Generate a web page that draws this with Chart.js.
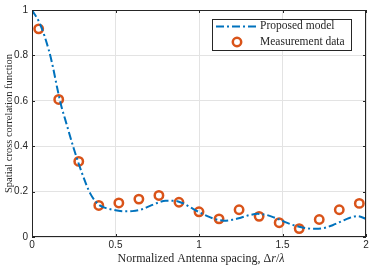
<!DOCTYPE html>
<html><head><meta charset="utf-8">
<script src="https://cdn.jsdelivr.net/npm/chart.js@4"></script>
<style>html,body{margin:0;padding:0;background:#fff}#w{width:374px;height:266px}</style>
</head><body><div id="w"><canvas id="c" width="374" height="266"></canvas></div>
<script>
const modelX = [0,0.05,0.10,0.125,0.15,0.175,0.20,0.25,0.30,0.35,0.40,0.45,0.50,0.55,0.60,0.65,0.70,0.75,0.80,0.85,0.90,0.95,1.00,1.05,1.10,1.15,1.20,1.25,1.30,1.35,1.40,1.45,1.50,1.55,1.60,1.65,1.70,1.75,1.80,1.85,1.90,1.95,2.00];
const modelY = [1.0,0.935,0.825,0.75,0.66,0.578,0.515,0.39,0.28,0.19,0.142,0.126,0.118,0.113,0.114,0.12,0.135,0.150,0.160,0.160,0.150,0.130,0.110,0.092,0.078,0.072,0.076,0.085,0.096,0.102,0.098,0.086,0.071,0.056,0.045,0.038,0.036,0.040,0.052,0.068,0.084,0.092,0.080];
const measX = [0.04,0.16,0.28,0.40,0.52,0.64,0.76,0.88,1.00,1.12,1.24,1.36,1.48,1.60,1.72,1.84,1.96];
const measY = [0.917,0.606,0.333,0.139,0.150,0.167,0.183,0.153,0.111,0.080,0.120,0.091,0.063,0.037,0.077,0.120,0.148];
const xTicks = [0,0.5,1,1.5,2];
const xTickLabels = ['0','0.5','1','1.5','2'];
const yTicks = [0,0.2,0.4,0.6,0.8,1];
const yTickLabels = ['0','0.2','0.4','0.6','0.8','1'];
const seriesNames = ['Proposed model','Measurement data'];

const AX = '#262626';
const BLUE = '#0072BD', RED = '#D95319';
const SERIF = '"Liberation Serif", "Times New Roman", serif';
const SANS = '"Liberation Sans", Arial, sans-serif';

const decor = {
  id:'decor',
  afterDraw(chart){
    const ctx = chart.ctx, a = chart.chartArea;
    const xs = chart.scales.x, ys = chart.scales.y;
    ctx.save();
    ctx.strokeStyle = AX; ctx.lineWidth = 1;
    ctx.strokeRect(Math.round(a.left)+0.5, Math.round(a.top)+0.5, Math.round(a.right-a.left)-1, Math.round(a.bottom-a.top)-1);
    ctx.beginPath();
    xTicks.forEach(v=>{const p=Math.round(xs.getPixelForValue(v))+0.5; ctx.moveTo(p,a.bottom); ctx.lineTo(p,a.bottom-3); ctx.moveTo(p,a.top); ctx.lineTo(p,a.top+3);});
    yTicks.forEach(v=>{const p=Math.round(ys.getPixelForValue(v))+0.5; ctx.moveTo(a.left,p); ctx.lineTo(a.left+3,p); ctx.moveTo(a.right,p); ctx.lineTo(a.right-3,p);});
    ctx.stroke();
    const parts = [['Normalized Antenna spacing, \u0394',''],['r','italic '],['/',''],['\u03BB','italic ']];
    const fs = 12;
    let total = 0;
    parts.forEach(p=>{ctx.font = p[1]+fs+'px '+SERIF; total += ctx.measureText(p[0]).width;});
    let x = (a.left+a.right)/2 + 2 - total/2;
    ctx.fillStyle = AX; ctx.textBaseline='middle'; ctx.textAlign='left';
    parts.forEach(p=>{ctx.font = p[1]+fs+'px '+SERIF; ctx.fillText(p[0], x, 259); x += ctx.measureText(p[0]).width;});
    ctx.save();
    ctx.translate(9,(a.top+a.bottom)/2); ctx.rotate(-Math.PI/2);
    ctx.font = '10.5px '+SERIF; ctx.textAlign='center'; ctx.textBaseline='middle';
    ctx.fillText('Spatial cross correlation function',0,0);
    ctx.restore();
    const lx=212, ly=19, lw=139, lh=31;
    ctx.fillStyle='#fff'; ctx.fillRect(lx,ly,lw,lh);
    ctx.strokeStyle=AX; ctx.lineWidth=1; ctx.strokeRect(lx+0.5,ly+0.5,lw,lh);
    ctx.strokeStyle=BLUE; ctx.lineWidth=2; ctx.setLineDash([8,3,2,3]);
    ctx.beginPath(); ctx.moveTo(216,26.5); ctx.lineTo(258,26.5); ctx.stroke();
    ctx.setLineDash([]);
    ctx.strokeStyle=RED; ctx.lineWidth=2.5;
    ctx.beginPath(); ctx.arc(237,42,4.2,0,Math.PI*2); ctx.stroke();
    ctx.fillStyle=AX; ctx.font='11.5px '+SERIF; ctx.textBaseline='middle';
    ctx.fillText(seriesNames[0],260,26);
    ctx.fillText(seriesNames[1],260,42);
    ctx.restore();
  }
};

new Chart(document.getElementById('c'), {
  type:'scatter',
  data:{datasets:[
    {label:seriesNames[0], data:modelX.map((v,i)=>({x:v,y:modelY[i]})), showLine:true, pointRadius:0,
     borderColor:BLUE, borderWidth:2, borderDash:[8,3,2,3], tension:0.4, cubicInterpolationMode:'monotone', fill:false},
    {label:seriesNames[1], data:measX.map((v,i)=>({x:v,y:measY[i]})), showLine:false, pointRadius:4.2,
     pointBorderWidth:2.5, pointBorderColor:RED, pointBackgroundColor:'rgba(255,255,255,0)', pointHoverRadius:4.2}
  ]},
  options:{
    responsive:false, animation:false, devicePixelRatio:1,
    layout:{padding:{left:0,right:8,top:6,bottom:0}},
    plugins:{legend:{display:false}, tooltip:{enabled:false}},
    scales:{
      x:{type:'linear', min:0, max:2, afterBuildTicks(s){s.ticks = xTicks.map(v=>({value:v}));},
         afterFit(s){s.height=29;},
         ticks:{callback:(v)=>{const i=xTicks.indexOf(v);return i>=0?xTickLabels[i]:'';}, color:AX, font:{family:SANS,size:10}, padding:2, maxRotation:0},
         grid:{color:'#e3e3e3', drawTicks:false}, border:{display:false}},
      y:{type:'linear', min:0, max:1, afterBuildTicks(s){s.ticks = yTicks.map(v=>({value:v}));},
         afterFit(s){s.width=32;},
         ticks:{callback:(v)=>{const i=yTicks.findIndex(t=>Math.abs(t-v)<1e-9);return i>=0?yTickLabels[i]:'';}, color:AX, font:{family:SANS,size:10}, padding:4},
         grid:{color:'#e3e3e3', drawTicks:false}, border:{display:false}}
    }
  },
  plugins:[decor]
});
</script></body></html>
